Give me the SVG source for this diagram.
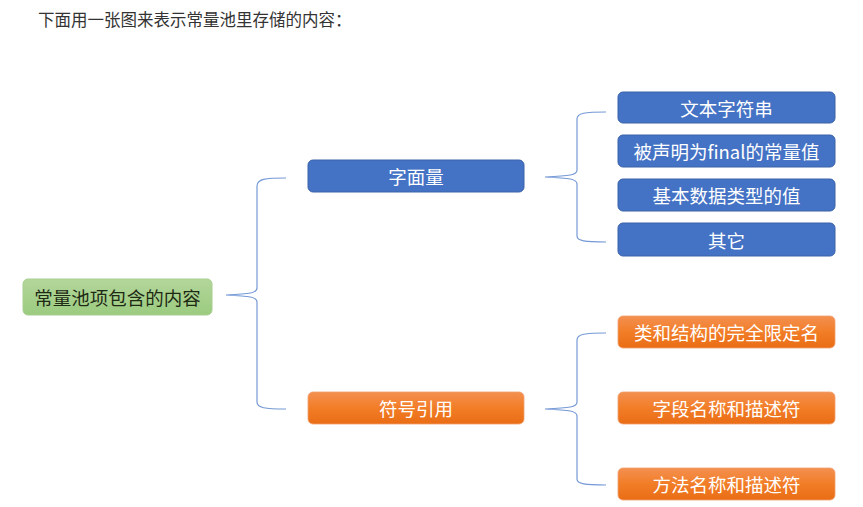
<svg xmlns="http://www.w3.org/2000/svg" width="863" height="507" viewBox="0 0 863 507">
  <defs>
    <linearGradient id="gGreen" x1="0" y1="0" x2="0" y2="1">
      <stop offset="0" stop-color="#b3d69b"/>
      <stop offset="1" stop-color="#9bcb7f"/>
    </linearGradient>
    <linearGradient id="gOrange" x1="0" y1="0" x2="0" y2="1">
      <stop offset="0" stop-color="#f39050"/>
      <stop offset="0.5" stop-color="#f27d27"/>
      <stop offset="1" stop-color="#e96d15"/>
    </linearGradient>
    <style>
      text { font-family: "Microsoft YaHei", "Noto Sans CJK SC", "Noto Sans", sans-serif; }
      .title { font-size: 16.5px; fill: #333333; }
      .lbl { font-size: 18.5px; fill: #ffffff; text-anchor: middle; dominant-baseline: central; }
      .root { font-size: 18.5px; fill: #1e2a14; text-anchor: middle; dominant-baseline: central; }
      .blue { fill: #4472c4; stroke: #3a62a8; stroke-width: 1; }
      .orange { fill: url(#gOrange); stroke: #f0a070; stroke-width: 0.8; }
      .green { fill: url(#gGreen); stroke: #a8cf90; stroke-width: 1; }
      .brace { fill: none; stroke: #7499d6; stroke-width: 1.2; }
    </style>
  </defs>
  <rect width="863" height="507" fill="#ffffff"/>
  <text class="title" x="38" y="26">下面用一张图来表示常量池里存储的内容：</text>

  <g id="connectors">
    <path class="brace" d="M286,178 C265,178 257,179 257,186 L257,288 C257,293 250,294 226,295 C250,296 257,297 257,302 L257,402 C257,408 265,409 286,409"/>
    <path class="brace" d="M606,112 C585,112 577,113 577,119 L577,170 C577,175 570,176 545,177 C570,178 577,179 577,184 L577,236 C577,241 585,242 606,242"/>
    <path class="brace" d="M606,333 C585,333 577,334 577,340 L577,402 C577,407 570,408 545,409 C570,410 577,411 577,416 L577,479 C577,484 585,485 606,485"/>
  </g>

  <g id="root">
    <rect class="green" x="23" y="279" width="189" height="36" rx="5"/>
    <text class="root" x="117.5" y="297">常量池项包含的内容</text>
  </g>

  <g id="literal">
    <rect class="blue" x="308" y="160" width="216" height="32" rx="5"/>
    <text class="lbl" x="416" y="176">字面量</text>
  </g>
  <g id="symref">
    <rect class="orange" x="308" y="392" width="216" height="32" rx="5"/>
    <text class="lbl" x="416" y="408">符号引用</text>
  </g>

  <g id="lit1">
    <rect class="blue" x="618" y="92" width="217" height="31" rx="5"/>
    <text class="lbl" x="726.5" y="107.5">文本字符串</text>
  </g>
  <g id="lit2">
    <rect class="blue" x="618" y="135" width="217" height="32" rx="5"/>
    <text class="lbl" x="726.5" y="151">被声明为final的常量值</text>
  </g>
  <g id="lit3">
    <rect class="blue" x="618" y="179" width="217" height="32" rx="5"/>
    <text class="lbl" x="726.5" y="195">基本数据类型的值</text>
  </g>
  <g id="lit4">
    <rect class="blue" x="618" y="223" width="217" height="33" rx="5"/>
    <text class="lbl" x="726.5" y="239.5">其它</text>
  </g>

  <g id="sym1">
    <rect class="orange" x="618" y="316" width="217" height="32" rx="5"/>
    <text class="lbl" x="726.5" y="332">类和结构的完全限定名</text>
  </g>
  <g id="sym2">
    <rect class="orange" x="618" y="392" width="217" height="32" rx="5"/>
    <text class="lbl" x="726.5" y="408">字段名称和描述符</text>
  </g>
  <g id="sym3">
    <rect class="orange" x="618" y="468" width="217" height="32" rx="5"/>
    <text class="lbl" x="726.5" y="484">方法名称和描述符</text>
  </g>
</svg>
